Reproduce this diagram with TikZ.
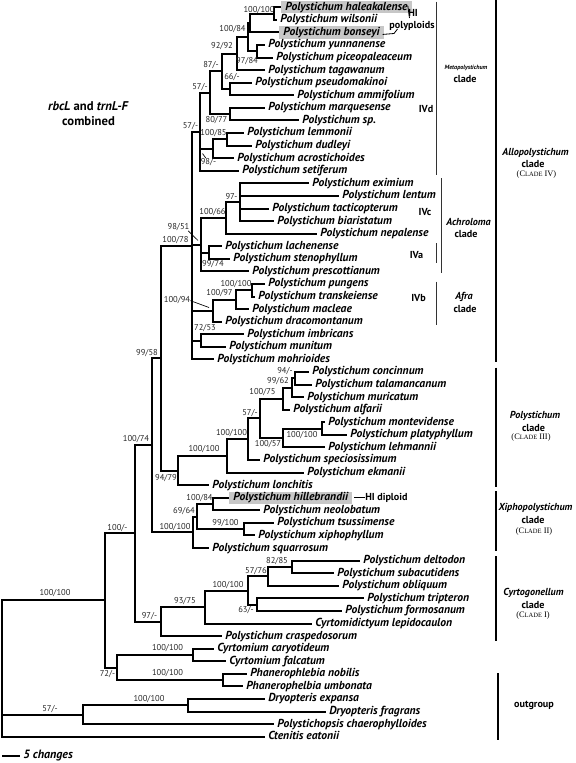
\documentclass[tikz,border=0pt]{standalone}
\usepackage{fontspec}
\setmainfont{PT Sans}
\newfontfamily\serf{Liberation Serif}
\begin{document}
\begin{tikzpicture}[x=0.75pt,y=-0.75pt]
\useasboundingbox (0,0) rectangle (575,763);
\tikzset{
  br/.style={line width=1.5pt, line join=miter},
  tax/.style={anchor=west, font=\fontsize{8.7}{9}\selectfont\bfseries\itshape, inner xsep=2.25pt, inner ysep=0.5pt, text height=6.3pt, text depth=1.9pt},
  hl/.style={tax, fill=black!22, inner xsep=3pt},
  bs/.style={font=\fontsize{6.4}{7}\selectfont, inner sep=0pt, text=black!85},
  tick/.style={line width=0.5pt},
  thinbar/.style={line width=0.7pt, black!80},
  thickbar/.style={line width=1.9pt},
  cl/.style={font=\fontsize{7.6}{8}\selectfont\bfseries, inner sep=0pt},
  cli/.style={font=\fontsize{7.6}{8}\selectfont\bfseries\itshape, inner sep=0pt},
  clr/.style={font=\serf\fontsize{6.3}{7}\selectfont, inner sep=0pt}
}
% ---------- tips ----------
\node[hl]  (t0)  at (281,7.3)    {Polystichum haleakalense};
\node[tax] (t1)  at (277,19.88)  {Polystichum wilsonii};
\node[hl]  (t2)  at (279,32.45)  {Polystichum bonseyi};
\node[tax] (t3)  at (265,45.03)  {Polystichum yunnanense};
\node[tax] (t4)  at (273,57.60)  {Polystichum piceopaleaceum};
\node[tax] (t5)  at (265,70.18)  {Polystichum tagawanum};
\node[tax] (t6)  at (252,82.76)  {Polystichum pseudomakinoi};
\node[tax] (t7)  at (294,95.33)  {Polystichum ammifolium};
\node[tax] (t8)  at (265,107.91) {Polystichum marquesense};
\node[tax] (t9)  at (299,120.48) {Polystichum sp.};
\node[tax] (t10) at (244,133.06) {Polystichum lemmonii};
\node[tax] (t11) at (252,145.64) {Polystichum dudleyi};
\node[tax] (t12) at (234,158.21) {Polystichum acrostichoides};
\node[tax] (t13) at (239,170.79) {Polystichum setiferum};
\node[tax] (t14) at (309,183.36) {Polystichum eximium};
\node[tax] (t15) at (339,195.94) {Polystichum lentum};
\node[tax] (t16) at (269,208.52) {Polystichum tacticopterum};
\node[tax] (t17) at (274,221.09) {Polystichum biaristatum};
\node[tax] (t18) at (317,233.67) {Polystichum nepalense};
\node[tax] (t19) at (222,246.24) {Polystichum lachenense};
\node[tax] (t20) at (230,258.82) {Polystichum stenophyllum};
\node[tax] (t21) at (249,271.40) {Polystichum prescottianum};
\node[tax] (t22) at (265,283.97) {Polystichum pungens};
\node[tax] (t23) at (255,296.55) {Polystichum transkeiense};
\node[tax] (t24) at (249,309.12) {Polystichum macleae};
\node[tax] (t25) at (222,321.70) {Polystichum dracomontanum};
\node[tax] (t26) at (244,334.28) {Polystichum imbricans};
\node[tax] (t27) at (226,346.85) {Polystichum munitum};
\node[tax] (t28) at (214,359.43) {Polystichum mohrioides};
\node[tax] (t29) at (309,372.00) {Polystichum concinnum};
\node[tax] (t30) at (312,384.58) {Polystichum talamancanum};
\node[tax] (t31) at (304,397.16) {Polystichum muricatum};
\node[tax] (t32) at (290,409.73) {Polystichum alfarii};
\node[tax] (t33) at (325,422.31) {Polystichum montevidense};
\node[tax] (t34) at (347,434.88) {Polystichum platyphyllum};
\node[tax] (t35) at (325,447.46) {Polystichum lehmannii};
\node[tax] (t36) at (260,460.04) {Polystichum speciosissimum};
\node[tax] (t37) at (304,472.61) {Polystichum ekmanii};
\node[tax] (t38) at (209,485.19) {Polystichum lonchitis};
\node[hl]  (t39) at (229,497.76) {Polystichum hillebrandii};
\node[tax] (t40) at (260,510.34) {Polystichum neolobatum};
\node[tax] (t41) at (274,522.92) {Polystichum tsussimense};
\node[tax] (t42) at (255,535.49) {Polystichum xiphophyllum};
\node[tax] (t43) at (209,548.07) {Polystichum squarrosum};
\node[tax] (t44) at (360,560.64) {Polystichum deltodon};
\node[tax] (t45) at (334,573.22) {Polystichum subacutidens};
\node[tax] (t46) at (339,585.80) {Polystichum obliquum};
\node[tax] (t47) at (364,598.37) {Polystichum tripteron};
\node[tax] (t48) at (342,610.95) {Polystichum formosanum};
\node[tax] (t49) at (312,623.52) {Cyrtomidictyum lepidocaulon};
\node[tax] (t50) at (222,636.10) {Polystichum craspedosorum};
\node[tax] (t51) at (214,648.68) {Cyrtomium caryotideum};
\node[tax] (t52) at (226,661.25) {Cyrtomium falcatum};
\node[tax] (t53) at (247,673.83) {Phanerophlebia nobilis};
\node[tax] (t54) at (243,686.40) {Phanerophelbia umbonata};
\node[tax] (t55) at (265,698.98) {Dryopteris expansa};
\node[tax] (t56) at (326,711.56) {Dryopteris fragrans};
\node[tax] (t57) at (274,724.13) {Polystichopsis chaerophylloides};
\node[tax] (t58) at (265,736.71) {Ctenitis eatonii};
% ---------- internal nodes ----------
\coordinate (N0) at (274,13.59);
\coordinate (N1) at (250,23.02);
\coordinate (N3) at (257,51.32);
\coordinate (N2) at (247.5,37.17);
\coordinate (N5) at (237,53.68);
\coordinate (N6) at (230,89.05);
\coordinate (N7) at (222,71.36);
\coordinate (N8) at (230,114.2);
\coordinate (N9) at (210,92.78);
\coordinate (N10) at (227,139.35);
\coordinate (N11) at (213,148.78);
\coordinate (M0) at (200,131.79);
\coordinate (A1) at (240,202.23);
\coordinate (A2) at (226,217.95);
\coordinate (A3) at (209,252.53);
\coordinate (A4) at (200.7,244.68);
\coordinate (F1) at (252,290.26);
\coordinate (F2) at (236,299.69);
\coordinate (F3) at (213,310.7);
\coordinate (F4) at (200.7,340.57);
\coordinate (AR) at (192,245.61);
\coordinate (P1) at (295,378.29);
\coordinate (P2) at (292,387.73);
\coordinate (P3) at (283,398.73);
\coordinate (P4) at (322,428.6);
\coordinate (P5) at (283,438.03);
\coordinate (P6) at (260,418.38);
\coordinate (P7) at (248,439.21);
\coordinate (P8) at (227,455.91);
\coordinate (P9) at (178,470.55);
\coordinate (X1) at (213,504.05);
\coordinate (X2) at (244,529.2);
\coordinate (X3) at (197,516.63);
\coordinate (X4) at (193,532.35);
\coordinate (C34) at (161,358.08);
\coordinate (C234) at (152,445.2);
\coordinate (Y1) at (292,566.93);
\coordinate (Y2) at (268,576.37);
\coordinate (Y3) at (257,604.66);
\coordinate (Y4) at (248,590.5);
\coordinate (Y5) at (205,607.01);
\coordinate (Y6) at (161,621.56);
\coordinate (C1234) at (135,533.38);
\coordinate (O1) at (193,654.97);
\coordinate (O2) at (223,680.12);
\coordinate (O3) at (117,667.54);
\coordinate (ING) at (105,600.46);
\coordinate (D1) at (188,705.27);
\coordinate (D2) at (83,714.7);
\coordinate (ROOT) at (2,668);
% ---------- branches ----------
\begin{scope}[br]
\draw (N0) |- (t0.west); \draw (N0) |- (t1.west);
\draw (N1) |- (N0); \draw (N1) |- (t2.west);
\draw (N3) |- (t3.west); \draw (N3) |- (t4.west);
\draw (N2) |- (N1); \draw (N2) |- (N3);
\draw (N5) |- (N2); \draw (N5) |- (t5.west);
\draw (N6) |- (t6.west); \draw (N6) |- (t7.west);
\draw (N7) |- (N5); \draw (N7) |- (N6);
\draw (N8) |- (t8.west); \draw (N8) |- (t9.west);
\draw (N9) |- (N7); \draw (N9) |- (N8);
\draw (N10) |- (t10.west); \draw (N10) |- (t11.west);
\draw (N11) |- (N10); \draw (N11) |- (t12.west);
\draw (M0) |- (N9); \draw (M0) |- (N11); \draw (M0) |- (t13.west);
\draw (A1) |- (t14.west); \draw (A1) |- (t15.west); \draw (A1) |- (t16.west); \draw (A1) |- (t17.west);
\draw (A2) |- (A1); \draw (A2) |- (t18.west);
\draw (A3) |- (t19.west); \draw (A3) |- (t20.west);
\draw (A4) |- (A2); \draw (A4) |- (A3); \draw (A4) |- (t21.west);
\draw (F1) |- (t22.west); \draw (F1) |- (t23.west);
\draw (F2) |- (F1); \draw (F2) |- (t24.west);
\draw (F3) |- (F2); \draw (F3) |- (t25.west);
\draw (F4) |- (t26.west); \draw (F4) |- (t27.west);
\draw (AR) |- (M0); \draw (AR) |- (A4); \draw (AR) |- (F3); \draw (AR) |- (F4); \draw (AR) |- (t28.west);
\draw (P1) |- (t29.west); \draw (P1) |- (t30.west);
\draw (P2) |- (P1); \draw (P2) |- (t31.west);
\draw (P3) |- (P2); \draw (P3) |- (t32.west);
\draw (P4) |- (t33.west); \draw (P4) |- (t34.west);
\draw (P5) |- (P4); \draw (P5) |- (t35.west);
\draw (P6) |- (P3); \draw (P6) |- (P5);
\draw (P7) |- (P6); \draw (P7) |- (t36.west);
\draw (P8) |- (P7); \draw (P8) |- (t37.west);
\draw (P9) |- (P8); \draw (P9) |- (t38.west);
\draw (X1) |- (t39.west); \draw (X1) |- (t40.west);
\draw (X2) |- (t41.west); \draw (X2) |- (t42.west);
\draw (X3) |- (X1); \draw (X3) |- (X2);
\draw (X4) |- (X3); \draw (X4) |- (t43.west);
\draw (C34) |- (AR); \draw (C34) |- (P9);
\draw (C234) |- (C34); \draw (C234) |- (X4);
\draw (Y1) |- (t44.west); \draw (Y1) |- (t45.west);
\draw (Y2) |- (Y1); \draw (Y2) |- (t46.west);
\draw (Y3) |- (t47.west); \draw (Y3) |- (t48.west);
\draw (Y4) |- (Y2); \draw (Y4) |- (Y3);
\draw (Y5) |- (Y4); \draw (Y5) |- (t49.west);
\draw (Y6) |- (Y5); \draw (Y6) |- (t50.west);
\draw (C1234) |- (C234); \draw (C1234) |- (Y6);
\draw (O1) |- (t51.west); \draw (O1) |- (t52.west);
\draw (O2) |- (t53.west); \draw (O2) |- (t54.west);
\draw (O3) |- (O1); \draw (O3) |- (O2);
\draw (ING) |- (C1234); \draw (ING) |- (O3);
\draw (D1) |- (t55.west); \draw (D1) |- (t56.west);
\draw (D2) |- (D1); \draw (D2) |- (t57.west);
\draw (ROOT) |- (ING); \draw (ROOT) |- (D2); \draw (ROOT) |- (t58.west);
\end{scope}
% ---------- support values ----------
\node[bs] (s1) at (259,10) {100/100};
\node[bs] (s2) at (232.5,29.5) {100/84};
\node[bs] (s3) at (222,46.5) {92/92};
\node[bs] (s4) at (247,61) {97/84};
\node[bs] (s5) at (211,65) {87/-};
\node[bs] (s6) at (232,77) {66/-};
\node[bs] (s7) at (200,87.5) {57/-};
\node[bs] (s8) at (216.5,120) {80/77};
\node[bs] (s9) at (190.5,126.5) {57/-};
\node[bs] (s10) at (213.5,133) {100/85};
\node[bs] (s11) at (208.5,162) {98/-};
\node[bs] (s12) at (231.5,197) {97-};
\node[bs] (s13) at (212.5,212) {100/66};
\node[bs] (s14) at (178.5,227) {98/51};
\node[bs] (s15) at (175.5,240) {100/78};
\node[bs] (s16) at (213,264) {99/74};
\node[bs] (s17) at (236,284) {100/100};
\node[bs] (s18) at (219.5,293) {100/97};
\node[bs] (s19) at (177,300) {100/94};
\node[bs] (s20) at (205,327.7) {72/53};
\node[bs] (s21) at (147,353) {99/58};
\node[bs] (s22) at (285,371) {94/-};
\node[bs] (s23) at (278,381) {99/62};
\node[bs] (s24) at (262.5,392) {100/75};
\node[bs] (s25) at (250,413) {57/-};
\node[bs] (s26) at (302,435.5) {100/100};
\node[bs] (s27) at (231.5,433) {100/100};
\node[bs] (s28) at (268,444) {100/57};
\node[bs] (s29) at (204,449.5) {100/100};
\node[bs] (s30) at (136,439) {100/74};
\node[bs] (s31) at (166,478) {94/79};
\node[bs] (s32) at (199.5,498) {100/84};
\node[bs] (s33) at (184,511) {69/64};
\node[bs] (s34) at (225.5,523) {99/100};
\node[bs] (s35) at (175,527) {100/100};
\node[bs] (s36) at (117.5,528) {100/-};
\node[bs] (s37) at (277,561.5) {82/85};
\node[bs] (s38) at (256,571.3) {57/76};
\node[bs] (s39) at (228,585) {100/100};
\node[bs] (s40) at (185,601) {93/75};
\node[bs] (s41) at (246,610) {63/-};
\node[bs] (s42) at (149.5,616.5) {97/-};
\node[bs] (s43) at (55,593.5) {100/100};
\node[bs] (s44) at (167.5,648) {100/100};
\node[bs] (s45) at (107.5,674) {72/-};
\node[bs] (s46) at (167.5,673.5) {100/100};
\node[bs] (s47) at (149,699) {100/100};
\node[bs] (s48) at (50,709) {57/-};
% pointer ticks
\coordinate (k1) at (198,240.5);
\coordinate (k2) at (209,307.5);
\coordinate (k3) at (202.5,153.5);
\draw[tick] ([xshift=-1pt]s14.south east) -- (k1);
\draw[tick] ([yshift=-0.5pt]s19.east) -- (k2);
\draw[tick] (k3) -- ([xshift=-2pt]s11.north);
% ---------- HI notes ----------
\node[cl] (hi) at (413,13) {HI};
\node[cl] (poly) at (412,26) {polyploids};
\coordinate (h1) at (409.5,18);
\coordinate (h2) at (394,33.5);
\coordinate (h3) at (397.5,29);
\draw[line width=0.6pt] ([xshift=-3pt,yshift=1pt]t0.east) -- (h1);
\draw[line width=0.6pt] ([xshift=-1pt,yshift=-1.5pt]t2.east) -- (h2) -- (h3);
\node[cl, anchor=west] (dip) at (365,497.76) {HI diploid};
\draw[line width=0.6pt] ([xshift=1.5pt]t39.east) -- (dip.west);
% ---------- title ----------
\node[font=\fontsize{9.5}{11.25}\selectfont\bfseries, align=center, inner sep=0pt] (title) at (88.5,114) {\textit{rbcL} and \textit{trnL-F}\\combined};
% ---------- clade bars ----------
\coordinate (b1a) at (436.7,1.7);   \coordinate (b1b) at (436.7,175);
\coordinate (b2a) at (441.7,178);   \coordinate (b2b) at (441.7,273);
\coordinate (b3a) at (436.7,243);   \coordinate (b3b) at (436.7,263);
\coordinate (b4a) at (436.7,281.7); \coordinate (b4b) at (436.7,325);
\coordinate (b5a) at (496,0);       \coordinate (b5b) at (496,362);
\coordinate (b6a) at (496,367.7);   \coordinate (b6b) at (496,486.7);
\coordinate (b7a) at (496,491);     \coordinate (b7b) at (496,550.7);
\coordinate (b8a) at (496,556);     \coordinate (b8b) at (496,640.7);
\coordinate (b9a) at (498,673);     \coordinate (b9b) at (498,740);
\draw[thinbar] (b1a) -- (b1b);
\draw[thinbar] (b2a) -- (b2b);
\draw[thinbar] (b3a) -- (b3b);
\draw[thinbar] (b4a) -- (b4b);
\draw[thickbar] (b5a) -- (b5b);
\draw[thickbar] (b6a) -- (b6b);
\draw[thickbar] (b7a) -- (b7b);
\draw[thickbar] (b8a) -- (b8b);
\draw[thickbar] (b9a) -- (b9b);
% ---------- clade labels ----------
\node[font=\fontsize{4.6}{5}\selectfont\bfseries\itshape, inner sep=0pt] (meta) at (466,67.7) {Metapolystichum};
\node[cl] (metac) at (465,79.5) {clade};
\node[cl] (ivd) at (426,109) {IVd};
\node[cl] (ivc) at (425,212) {IVc};
\node[cl] (iva) at (416.5,255) {IVa};
\node[cl] (ivb) at (418.5,298) {IVb};
\node[cli] (achr) at (468.5,222) {Achroloma};
\node[cl] (achrc) at (466,234) {clade};
\node[cli] (afra) at (464,297) {Afra};
\node[cl] (afrac) at (465,309) {clade};
\node[cli] (allo) at (535.5,152.7) {Allopolystichum};
\node[cl] (alloc) at (533,164) {clade};
\node[clr] (allor) at (536.5,174.5) {(C{\fontsize{4.9}{6}\selectfont LADE} IV)};
\node[cli] (pol) at (535,415.7) {Polystichum};
\node[cl] (polc) at (533.5,427.7) {clade};
\node[clr] (polr) at (531,437.5) {(C{\fontsize{4.9}{6}\selectfont LADE} III)};
\node[cli] (xip) at (535.5,508) {Xiphopolystichum};
\node[cl] (xipc) at (533,520) {clade};
\node[clr] (xipr) at (534,531) {(C{\fontsize{4.9}{6}\selectfont LADE} II)};
\node[cli] (cyr) at (533.5,593) {Cyrtogonellum};
\node[cl] (cyrc) at (533,605.5) {clade};
\node[clr] (cyrr) at (533,615.5) {(C{\fontsize{4.9}{6}\selectfont LADE} I)};
\node[cl] (outg) at (534,705) {outgroup};
% ---------- scale bar ----------
\coordinate (sc1) at (2,755.7);
\coordinate (sc2) at (20,755.7);
\draw[line width=1.3pt] (sc1) -- (sc2);
\node[font=\fontsize{9}{10}\selectfont\bfseries\itshape, anchor=west, inner sep=0pt] (scl) at (23,755.7) {5 changes};
\end{tikzpicture}
\end{document}
